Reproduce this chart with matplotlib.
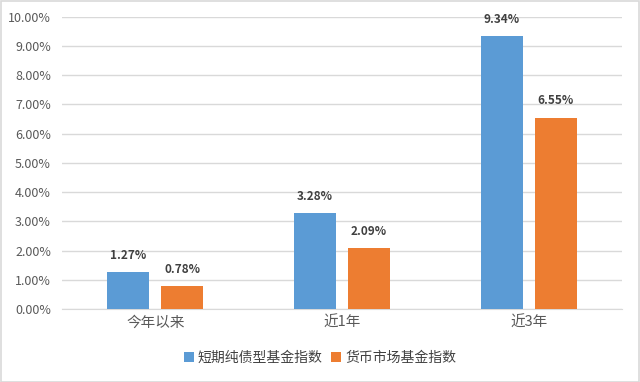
import matplotlib
matplotlib.use("Agg")
import matplotlib.pyplot as plt
import numpy as np

plt.rcParams['font.family'] = ['Noto Sans CJK SC', 'DejaVu Sans']

categories = ['今年以来', '近1年', '近3年']
series_names = ['短期纯债型基金指数', '货币市场基金指数']
bond_vals = [1.27, 3.28, 9.34]
money_vals = [0.78, 2.09, 6.55]
colors = ['#5B9BD5', '#ED7D31']

fig = plt.figure(figsize=(6.4, 3.82), dpi=100)
ax = fig.add_axes([0.097, 0.191, 0.875, 0.765])

x = np.arange(len(categories))
w = 0.225
off = 0.145
b1 = ax.bar(x - off, bond_vals, w, color=colors[0], label=series_names[0], zorder=3)
b2 = ax.bar(x + off, money_vals, w, color=colors[1], label=series_names[1], zorder=3)

for bars, vals in ((b1, bond_vals), (b2, money_vals)):
    for r, v in zip(bars, vals):
        ax.text(r.get_x() + r.get_width() / 2, v + 0.35, f'{v:.2f}%', ha='center', va='bottom',
                fontsize=8.5, fontweight='bold', color='#404040')

ax.set_xlim(-0.5, 2.5)
ax.set_ylim(0, 10)
ax.set_yticks(np.arange(0, 11, 1))
ax.set_yticklabels([f'{v:.2f}%' for v in range(0, 11)])
ax.set_xticks(x)
ax.set_xticklabels(categories)
ax.tick_params(axis='both', length=0, labelsize=9, colors='#595959')
ax.tick_params(axis='x', pad=5, labelsize=10.5)
ax.tick_params(axis='y', pad=8)
ax.grid(axis='y', color='#D9D9D9', linewidth=1, zorder=0)
for s in ['top', 'right', 'left']:
    ax.spines[s].set_visible(False)
ax.spines['bottom'].set_color('#D9D9D9')

fig.legend(loc='center', bbox_to_anchor=(0.5, 0.063), ncol=2, frameon=False,
           fontsize=10, handlelength=0.7, handleheight=0.7, handletextpad=0.3, columnspacing=0.6,
           labelcolor='#404040')

fig.add_artist(plt.Rectangle((0.001, 0.001), 0.997, 0.996, transform=fig.transFigure,
                             fill=False, edgecolor='#D9D9D9', linewidth=1.2))

fig.savefig('out.png', dpi=100)
